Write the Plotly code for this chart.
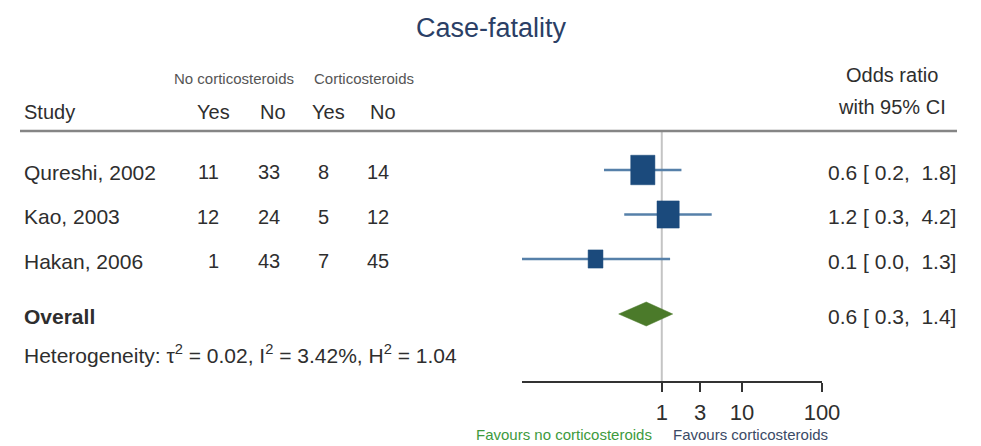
import numpy as np
import plotly.graph_objects as go

# ---- data -------------------------------------------------------------
studies = ["Qureshi, 2002", "Kao, 2003", "Hakan, 2006"]
ctrl_yes = [11, 12, 1]      # no corticosteroids: deaths
ctrl_no = [33, 24, 43]      # no corticosteroids: survivors
trt_yes = [8, 5, 7]         # corticosteroids: deaths
trt_no = [14, 12, 45]       # corticosteroids: survivors
odds_ratio = [0.58, 1.20, 0.149]
ci_low = [0.19, 0.34, 0.018]
ci_high = [1.76, 4.20, 1.27]
weight_pct = [45, 38, 17]
overall_or = 0.64
overall_low = 0.29
overall_high = 1.37
x_ticks = [1, 3, 10, 100]
heterogeneity = {"tau2": "0.02", "i2": "3.42%", "h2": "1.04"}

# ---- layout helpers ---------------------------------------------------
W, H = 981, 446
FONT = "Liberation Sans, Arial, Helvetica, sans-serif"
TXT = "#2e2e2e"
NAVY = "#1b4a7c"
CI_COL = "#5680a9"
GREEN = "#4b7a2a"
ROW_FS = 21


def px(x):
    return x / W


row_y0, row_step = 170, 44.5
row_y = [row_y0 + i * row_step for i in range(len(studies))]
overall_y = 314
rule_y = 131
axis_y = 382

x_min = min(ci_low)
x_max = max(x_ticks)

fig = go.Figure()

# null line at OR = 1
fig.add_trace(go.Scatter(x=[1, 1], y=[rule_y, axis_y], mode="lines",
                         line=dict(color="#c4c4c4", width=2), hoverinfo="skip"))

# confidence intervals and weighted boxes
for i in range(len(studies)):
    fig.add_trace(go.Scatter(x=[ci_low[i], ci_high[i]], y=[row_y[i], row_y[i]],
                             mode="lines", line=dict(color=CI_COL, width=2.5),
                             hoverinfo="skip"))
    s = np.sqrt(weight_pct[i])
    half_w = 3.6 * s / 2 / 80.0      # in decades
    half_h = 4.4 * s / 2             # in pixel rows
    lc = np.log10(odds_ratio[i])
    bx = [10 ** (lc - half_w), 10 ** (lc + half_w), 10 ** (lc + half_w),
          10 ** (lc - half_w), 10 ** (lc - half_w)]
    by = [row_y[i] - half_h, row_y[i] - half_h, row_y[i] + half_h,
          row_y[i] + half_h, row_y[i] - half_h]
    fig.add_trace(go.Scatter(x=bx, y=by, mode="lines", fill="toself",
                             fillcolor=NAVY, line=dict(color=NAVY, width=0.5),
                             hoverinfo="skip"))

# pooled estimate diamond
dh = 12
fig.add_trace(go.Scatter(x=[overall_low, overall_or, overall_high, overall_or, overall_low],
                         y=[overall_y, overall_y - dh, overall_y, overall_y + dh, overall_y],
                         mode="lines", fill="toself", fillcolor=GREEN,
                         line=dict(color=GREEN, width=0.5), hoverinfo="skip"))

ann = []


def text(x, y, s, size=20, color=TXT, anchor="left", bold=False):
    if bold:
        s = "<b>" + s + "</b>"
    ann.append(dict(x=px(x), y=y, xref="paper", yref="y", text=s, showarrow=False,
                    xanchor=anchor, yanchor="middle",
                    font=dict(family=FONT, size=size, color=color)))


NB = "\u00a0"

text(491, 28, "Case-fatality", size=27, color="#2b3f66", anchor="center")
text(234, 78, "No corticosteroids", size=15, color="#555555", anchor="center")
text(364, 78, "Corticosteroids", size=15, color="#555555", anchor="center")
text(892, 75, "Odds ratio", size=20, anchor="center")
text(892, 107, "with 95% CI", size=20, anchor="center")
text(22, 112, "Study")
text(213, 112, "Yes", anchor="center")
text(273, 112, "No", anchor="center")
text(328, 112, "Yes", anchor="center")
text(383, 112, "No", anchor="center")

col_right = [221, 282, 331, 391]
for i, name in enumerate(studies):
    y = row_y[i] + 2
    text(22, y, name, size=ROW_FS)
    for xr, v in zip(col_right, [ctrl_yes[i], ctrl_no[i], trt_yes[i], trt_no[i]]):
        text(xr, y, str(v), size=20, anchor="right")
    lab = f"{odds_ratio[i]:.1f} [{ci_low[i]:4.1f}, {ci_high[i]:4.1f}]".replace(" ", NB)
    text(958, y, lab, size=ROW_FS, anchor="right")

text(22, overall_y + 2, "Overall", size=ROW_FS, bold=True)
text(958, overall_y + 2,
     f"{overall_or:.1f} [{overall_low:4.1f}, {overall_high:4.1f}]".replace(" ", NB),
     size=ROW_FS, anchor="right")
text(22, 354,
     f"Heterogeneity: \u03c4<sup>2</sup> = {heterogeneity['tau2']}, "
     f"I<sup>2</sup> = {heterogeneity['i2']}, H<sup>2</sup> = {heterogeneity['h2']}",
     size=ROW_FS)

text(654, 434, "Favours no corticosteroids", size=15, color="#3d9a3d", anchor="right")
text(671, 434, "Favours corticosteroids", size=15, color="#3a4a66", anchor="left")

fig.update_layout(
    template="none",
    width=W, height=H, autosize=False, margin=dict(l=0, r=0, t=0, b=0, pad=0),
    paper_bgcolor="white", plot_bgcolor="white", showlegend=False,
    annotations=ann,
    shapes=[dict(type="line", xref="paper", yref="y", x0=px(20), x1=px(957),
                 y0=rule_y, y1=rule_y, line=dict(color="#858585", width=2.5))],
    xaxis=dict(type="log", domain=[px(522), px(822)],
               range=[np.log10(x_min), np.log10(x_max)],
               anchor="free", position=1 - axis_y / H, automargin=False,
               showline=True, linecolor="#333333", linewidth=1.5,
               ticks="outside", ticklen=9, tickwidth=1.5, tickcolor="#333333",
               tickvals=x_ticks, ticktext=[str(t) for t in x_ticks],
               tickfont=dict(family=FONT, size=22, color=TXT),
               ticklabelstandoff=2,
               showgrid=False, zeroline=False, fixedrange=True),
    yaxis=dict(range=[H, 0], domain=[0, 1], visible=False, automargin=False,
               fixedrange=True),
)

fig.write_html("out.html", config={"responsive": False, "displayModeBar": False})
